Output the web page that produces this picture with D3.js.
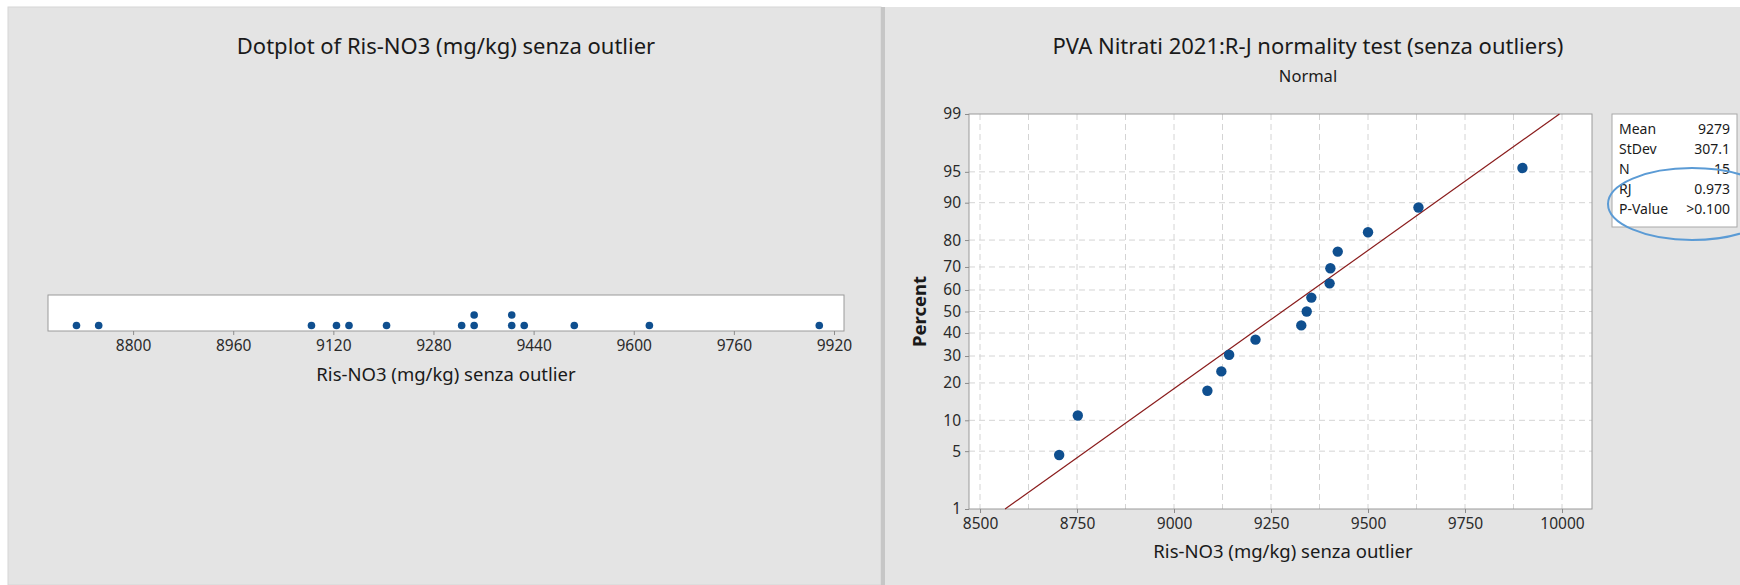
<!DOCTYPE html>
<html>
<head>
<meta charset="utf-8">
<script src="https://cdn.jsdelivr.net/npm/d3@7"></script>
<style>
  body { margin: 0; background: #fff; }
  svg text { font-family: "Noto Sans", "Open Sans", sans-serif; fill: #1a1a1a; }
  .axis path.domain { display: none; }
  .axis line { stroke: #8c8c8c; }
  .axis text { font-size: 15.5px; fill: #2a2a2a; }
</style>
</head>
<body>
<div id="chart"></div>
<script>
//DATA
let values = [8704, 8752, 9086, 9122, 9142, 9210, 9328, 9342, 9354, 9401, 9403, 9422, 9500, 9630, 9898];
let dotTicks = [8800, 8960, 9120, 9280, 9440, 9600, 9760, 9920];
let probTicks = [8500, 8750, 9000, 9250, 9500, 9750, 10000];
let probGrid = [8500, 8625, 8750, 8875, 9000, 9125, 9250, 9375, 9500, 9625, 9750, 9875, 10000];
let percentTicks = [1, 5, 10, 20, 30, 40, 50, 60, 70, 80, 90, 95, 99];
let percentGrid = [5, 10, 20, 30, 40, 50, 60, 70, 80, 90, 95];
let statLabels = ["Mean", "StDev", "N", "RJ", "P-Value"];
let statValues = ["9279", "307.1", "15", "0.973", ">0.100"];
let fitMean = 9279;
let fitStDev = 307.1;
let binStart = 8695, binWidth = 20;

let w = 1740, h = 585;

//inverse normal cdf (Acklam)
let normInv = function(p) {
  let a = [-3.969683028665376e+01, 2.209460984245205e+02, -2.759285104469687e+02, 1.383577518672690e+02, -3.066479806614716e+01, 2.506628277459239e+00];
  let b = [-5.447609879822406e+01, 1.615858368580409e+02, -1.556989798598866e+02, 6.680131188771972e+01, -1.328068155288572e+01];
  let c = [-7.784894002430293e-03, -3.223964580411365e-01, -2.400758277161838e+00, -2.549732539343734e+00, 4.374664141464968e+00, 2.938163982698783e+00];
  let d = [7.784695709041462e-03, 3.224671290700398e-01, 2.445134137142996e+00, 3.754408661907416e+00];
  let pl = 0.02425, q, r;
  if (p < pl) {
    q = Math.sqrt(-2 * Math.log(p));
    return (((((c[0]*q+c[1])*q+c[2])*q+c[3])*q+c[4])*q+c[5]) / ((((d[0]*q+d[1])*q+d[2])*q+d[3])*q+1);
  }
  if (p <= 1 - pl) {
    q = p - 0.5; r = q * q;
    return (((((a[0]*r+a[1])*r+a[2])*r+a[3])*r+a[4])*r+a[5])*q / (((((b[0]*r+b[1])*r+b[2])*r+b[3])*r+b[4])*r+1);
  }
  q = Math.sqrt(-2 * Math.log(1 - p));
  return -(((((c[0]*q+c[1])*q+c[2])*q+c[3])*q+c[4])*q+c[5]) / ((((d[0]*q+d[1])*q+d[2])*q+d[3])*q+1);
};

let svg = d3.select("#chart").append("svg")
    .attr("width", w)
    .attr("height", h);

//BACKGROUND PANELS
svg.append("rect").attr("width", w).attr("height", h).attr("fill", "#ffffff");
svg.append("rect")
    .attr("x", 8).attr("y", 7).attr("width", 873).attr("height", h - 7)
    .attr("fill", "#e4e4e4").attr("stroke", "#d6d6d6");
svg.append("rect")
    .attr("x", 885).attr("y", 7).attr("width", w - 885).attr("height", h - 7)
    .attr("fill", "#e4e4e4");
svg.append("rect")
    .attr("x", 881).attr("y", 7).attr("width", 4).attr("height", h - 7)
    .attr("fill", "#c6c6c6");

//DOTPLOT
let dot = {left: 48, right: 844, top: 295, bottom: 331};
let xDot = d3.scaleLinear()
    .domain([8664, 9936])
    .range([dot.left, dot.right]);

svg.append("rect")
    .attr("x", dot.left).attr("y", dot.top)
    .attr("width", dot.right - dot.left).attr("height", dot.bottom - dot.top)
    .attr("fill", "#ffffff").attr("stroke", "#9a9a9a");

let bins = d3.bin()
    .thresholds(d3.range(binStart, 10000, binWidth))(values)
    .filter(b => b.length > 0);

let stacked = [];
bins.forEach(function(b) {
  b.forEach(function(v, i) {
    stacked.push({center: (b.x0 + b.x1) / 2, level: i});
  });
});

svg.selectAll(".dotp")
    .data(stacked)
    .enter().append("circle")
    .attr("class", "dotp")
    .attr("cx", d => xDot(d.center))
    .attr("cy", d => dot.bottom - 5.5 - d.level * 10.5)
    .attr("r", 3.8)
    .attr("fill", "#0f4f8f");

svg.append("g")
    .attr("class", "axis")
    .attr("transform", "translate(0," + dot.bottom + ")")
    .call(d3.axisBottom(xDot).tickValues(dotTicks).tickSize(4).tickPadding(5).tickFormat(d3.format("d")));

svg.append("text")
    .attr("x", (dot.left + dot.right) / 2).attr("y", 376)
    .attr("text-anchor", "middle").attr("dominant-baseline", "middle")
    .attr("font-size", 18.5)
    .text("Ris-NO3 (mg/kg) senza outlier");

svg.append("text")
    .attr("x", 446).attr("y", 48)
    .attr("text-anchor", "middle").attr("dominant-baseline", "middle")
    .attr("font-size", 22)
    .text("Dotplot of Ris-NO3 (mg/kg) senza outlier");

//PROBABILITY PLOT
let prob = {left: 969, right: 1592, top: 114, bottom: 509};
let xProb = d3.scaleLinear()
    .domain([8471.6, 10077.3])
    .range([prob.left, prob.right]);
let yZ = d3.scaleLinear()
    .domain([normInv(0.01), normInv(0.99)])
    .range([prob.bottom, prob.top]);
let yP = p => yZ(normInv(p / 100));

svg.append("rect")
    .attr("x", prob.left).attr("y", prob.top)
    .attr("width", prob.right - prob.left).attr("height", prob.bottom - prob.top)
    .attr("fill", "#ffffff");

svg.selectAll(".gridx")
    .data(probGrid)
    .enter().append("line")
    .attr("class", "gridx")
    .attr("x1", d => xProb(d)).attr("x2", d => xProb(d))
    .attr("y1", prob.top).attr("y2", prob.bottom)
    .attr("stroke", "#d4d4d4").attr("stroke-dasharray", "6,4");

svg.selectAll(".gridy")
    .data(percentGrid)
    .enter().append("line")
    .attr("class", "gridy")
    .attr("x1", prob.left).attr("x2", prob.right)
    .attr("y1", d => yP(d)).attr("y2", d => yP(d))
    .attr("stroke", "#d4d4d4").attr("stroke-dasharray", "6,4");

svg.append("rect")
    .attr("x", prob.left).attr("y", prob.top)
    .attr("width", prob.right - prob.left).attr("height", prob.bottom - prob.top)
    .attr("fill", "none").attr("stroke", "#9a9a9a");

//fitted line
let fitLine = d3.line()
    .x(d => xProb(fitMean + fitStDev * normInv(d / 100)))
    .y(d => yP(d));
svg.append("path")
    .datum([1, 99])
    .attr("d", fitLine)
    .attr("fill", "none")
    .attr("stroke", "#8a1c1c")
    .attr("stroke-width", 1.2);

//points, median ranks
let sorted = values.slice().sort(d3.ascending);
let n = sorted.length;
svg.selectAll(".pp")
    .data(sorted)
    .enter().append("circle")
    .attr("class", "pp")
    .attr("cx", d => xProb(d))
    .attr("cy", (d, i) => yP((i + 1 - 0.3) / (n + 0.4) * 100))
    .attr("r", 5.2)
    .attr("fill", "#0f4f8f");

svg.append("g")
    .attr("class", "axis")
    .attr("transform", "translate(0," + prob.bottom + ")")
    .call(d3.axisBottom(xProb).tickValues(probTicks).tickSize(4).tickPadding(5).tickFormat(d3.format("d")));

svg.append("g")
    .attr("class", "axis")
    .attr("transform", "translate(" + prob.left + ",0)")
    .call(d3.axisLeft(yZ)
      .tickValues(percentTicks.map(p => normInv(p / 100)))
      .tickFormat((d, i) => percentTicks[i])
      .tickSize(4).tickPadding(4));

svg.append("text")
    .attr("transform", "translate(921," + ((prob.top + prob.bottom) / 2) + ") rotate(-90)")
    .attr("text-anchor", "middle").attr("dominant-baseline", "middle")
    .attr("font-size", 18.5).attr("font-weight", "bold")
    .text("Percent");

svg.append("text")
    .attr("x", 1283).attr("y", 553)
    .attr("text-anchor", "middle").attr("dominant-baseline", "middle")
    .attr("font-size", 18.5)
    .text("Ris-NO3 (mg/kg) senza outlier");

svg.append("text")
    .attr("x", 1308).attr("y", 48)
    .attr("text-anchor", "middle").attr("dominant-baseline", "middle")
    .attr("font-size", 22)
    .text("PVA Nitrati 2021:R-J normality test (senza outliers)");

svg.append("text")
    .attr("x", 1308).attr("y", 78)
    .attr("text-anchor", "middle").attr("dominant-baseline", "middle")
    .attr("font-size", 16.5)
    .text("Normal");

//STATS BOX
let statBox = svg.append("g");
statBox.append("rect")
    .attr("x", 1612).attr("y", 114).attr("width", 125).attr("height", 113)
    .attr("fill", "#ffffff").attr("stroke", "#a8a8a8");
statBox.selectAll(".slab")
    .data(statLabels)
    .enter().append("text")
    .attr("class", "slab")
    .attr("x", 1619).attr("y", (d, i) => 130 + i * 20)
    .attr("dominant-baseline", "middle")
    .attr("font-size", 14)
    .text(d => d);
statBox.selectAll(".sval")
    .data(statValues)
    .enter().append("text")
    .attr("class", "sval")
    .attr("x", 1730).attr("y", (d, i) => 130 + i * 20)
    .attr("text-anchor", "end").attr("dominant-baseline", "middle")
    .attr("font-size", 14)
    .text(d => d);

svg.append("ellipse")
    .attr("cx", 1692).attr("cy", 204).attr("rx", 84).attr("ry", 36)
    .attr("fill", "none")
    .attr("stroke", "#5b9bd5")
    .attr("stroke-width", 2);
</script>
</body>
</html>
